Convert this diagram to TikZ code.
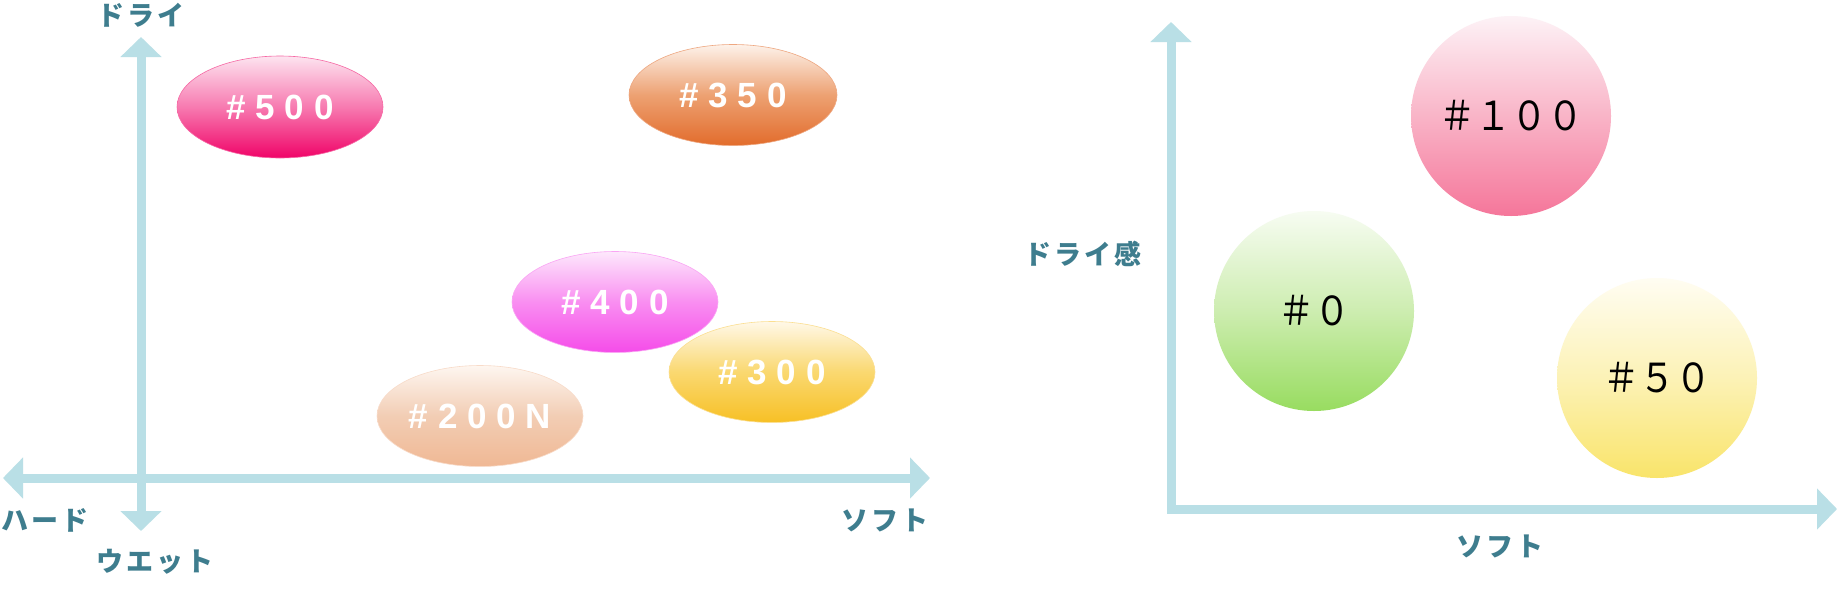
\documentclass[tikz,border=0pt]{standalone}
\usepackage{fontspec}
\usetikzlibrary{shapes.geometric,arrows.meta}
\newfontfamily\jpfont[FakeStretch=0.9]{Noto Sans CJK JP}
\newfontfamily\jplabfont[LetterSpace=10]{Noto Sans CJK JP}
\newfontfamily\numfont[LetterSpace=28]{Liberation Sans}
\definecolor{axisblue}{HTML}{B9DFE6}
\definecolor{labteal}{HTML}{3E7D8E}
\definecolor{pinkT}{HTML}{FDE4F0}\definecolor{pinkM}{HTML}{F77AB0}\definecolor{pinkB}{HTML}{F00468}
\definecolor{oraT}{HTML}{FDF2EA}\definecolor{oraM}{HTML}{EDA172}\definecolor{oraB}{HTML}{E26C2C}
\definecolor{magT}{HTML}{FDE8FC}\definecolor{magM}{HTML}{F98EF1}\definecolor{magB}{HTML}{F54CE9}
\definecolor{yelT}{HTML}{FFF8E8}\definecolor{yelM}{HTML}{FAD870}\definecolor{yelB}{HTML}{F7C025}
\definecolor{peaT}{HTML}{FEF6F0}\definecolor{peaM}{HTML}{F2CDB4}\definecolor{peaB}{HTML}{F0B894}
\definecolor{rosT}{HTML}{FDF2F6}\definecolor{rosM}{HTML}{F9B4C7}\definecolor{rosB}{HTML}{F5769A}
\definecolor{grnT}{HTML}{F7FCF2}\definecolor{grnM}{HTML}{CDEDB0}\definecolor{grnB}{HTML}{98DC60}
\definecolor{lemT}{HTML}{FFFDF2}\definecolor{lemM}{HTML}{FCF2B6}\definecolor{lemB}{HTML}{F9E46A}
\tikzset{
  axisline/.style={draw=axisblue, line width=9pt, line join=miter,
    arrows={Triangle[width=40pt,length=20pt]-Triangle[width=40pt,length=20pt]}},
  axlabel/.style={text=labteal, inner sep=0pt, font=\jplabfont\bfseries\fontsize{27}{30}\selectfont},
  pill/.style={ellipse, inner sep=0pt, minimum width=206pt, minimum height=101pt,
    line width=0.6pt, text=white, font=\numfont\bfseries\fontsize{35}{40}\selectfont},
  ball/.style={circle, inner sep=0pt, minimum size=200pt, text=black,
    font=\jpfont\fontsize{40}{44}\selectfont},
}
\begin{document}
\begin{tikzpicture}[x=1pt,y=-1pt]
\useasboundingbox (0,0) rectangle (1838,603);
\fill[white] (0,0) rectangle (1838,603);

% ---------- left chart ----------
\coordinate (ltop) at (141,37);
\coordinate (lbot) at (141,531);
\coordinate (lleft) at (3,478);
\coordinate (lright) at (930,478);
\draw[axisline] (lleft) -- (lright);
\draw[axisline] (ltop) -- (lbot);

\node[axlabel] (dry) at (141,15) {ドライ};
\node[axlabel] (hard) at (45,520) {ハード};
\node[axlabel] (wet) at (155,562) {ウエット};
\node[axlabel] (softL) at (885,520) {ソフト};

\node[pill, minimum height=102pt, draw=pinkB!60, top color=pinkT, bottom color=pinkB, middle color=pinkM] (p500) at (280,107) {\#500};
\node[pill, minimum width=208pt, draw=oraB!60, top color=oraT, bottom color=oraB, middle color=oraM] (p350) at (733,95) {\#350};
\node[pill, draw=magB!50, top color=magT, bottom color=magB, middle color=magM] (p400) at (615,302) {\#400};
\node[pill, draw=yelB!50, top color=yelT, bottom color=yelB, middle color=yelM] (p300) at (772,372) {\#300};
\node[pill, draw=peaB!50, top color=peaT, bottom color=peaB, middle color=peaM] (p200) at (480,416) {\#200N};

% ---------- right chart ----------
\coordinate (rtop) at (1171,22);
\coordinate (rcorner) at (1171,509);
\coordinate (rright) at (1837,509);
\draw[axisline] (rtop) -- (rcorner) -- (rright);

\node[axlabel] (dryk) at (1083,254) {ドライ感};
\node[axlabel] (softR) at (1500,546) {ソフト};

\node[ball, top color=rosT, bottom color=rosB, middle color=rosM] (c100) at (1511,116) {＃１００};
\node[ball, top color=grnT, bottom color=grnB, middle color=grnM] (c0) at (1314,311) {＃０};
\node[ball, top color=lemT, bottom color=lemB, middle color=lemM] (c50) at (1657,378) {＃５０};
\end{tikzpicture}
\end{document}
